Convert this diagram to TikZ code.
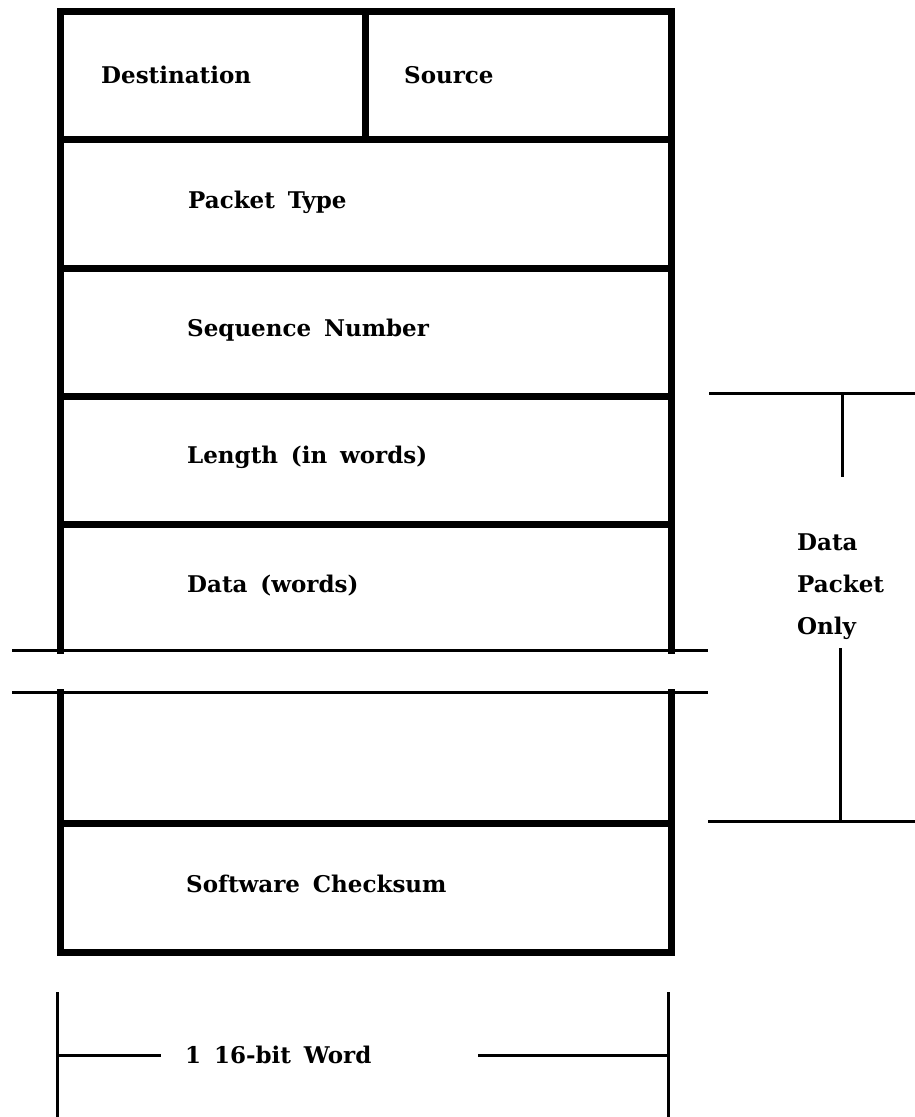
\documentclass[tikz,border=0pt]{standalone}
\usepackage{fontspec}
\newfontfamily\lblfont{DejaVu Serif}[WordSpace=1.6]
\begin{document}
\begin{tikzpicture}[x=1pt,y=-1pt,
  thick box/.style={line width=7pt,line join=miter,line cap=rect},
  thin line/.style={line width=3pt},
  lbl/.style={anchor=base west,inner sep=0pt,font=\lblfont\bfseries\fontsize{23}{27}\selectfont}]
\useasboundingbox (0,0) rectangle (915,1117);
% coordinates of the packet box
\coordinate (tl) at (60,11);
\coordinate (tr) at (671,11);
\coordinate (bl) at (60,952);
\coordinate (br) at (671,952);
\coordinate (lbrk1) at (60,650);
\coordinate (rbrk1) at (671,650);
\coordinate (lbrk2) at (60,692);
\coordinate (rbrk2) at (671,692);
% outer box (broken)
\draw[thick box] (lbrk1) -- (tl) -- (tr) -- (rbrk1);
\draw[thick box] (lbrk2) -- (bl) -- (br) -- (rbrk2);
% row separators
\coordinate (d1) at (365,11);
\coordinate (d2) at (365,139);
\draw[thick box] (d1) -- (d2);
\foreach \y/\n in {139/a,268/b,396/c,524/d,823/e}{
  \coordinate (r\n l) at (60,\y);
  \coordinate (r\n r) at (671,\y);
  \draw[thick box] (r\n l) -- (r\n r);
}
% break lines
\coordinate (k1a) at (12,650);
\coordinate (k1b) at (708,650);
\coordinate (k2a) at (12,692);
\coordinate (k2b) at (708,692);
\draw[thin line] (k1a) -- (k1b);
\draw[thin line] (k2a) -- (k2b);
% labels
\node[lbl] (dest) at (101,83) {Destination};
\node[lbl] (src) at (404,83) {Source};
\node[lbl] (ptype) at (188,208) {Packet Type};
\node[lbl] (seq) at (187,336) {Sequence Number};
\node[lbl] (len) at (187,463) {Length (in words)};
\node[lbl] (data) at (187,592) {Data (words)};
\node[lbl] (chk) at (186,892) {Software Checksum};
\node[lbl] (dpo1) at (797,550) {Data};
\node[lbl] (dpo2) at (797,592) {Packet};
\node[lbl] (dpo3) at (797,634) {Only};
% right bracket
\coordinate (rt1) at (709,393);
\coordinate (rt2) at (915,393);
\coordinate (rv1) at (842,393);
\coordinate (rv2) at (842,477);
\coordinate (rv3) at (840,648);
\coordinate (rv4) at (840,821);
\coordinate (rb1) at (708,821);
\coordinate (rb2) at (915,821);
\draw[thin line] (rt1) -- (rt2);
\draw[thin line] (rv1) -- (rv2);
\draw[thin line] (rv3) -- (rv4);
\draw[thin line] (rb1) -- (rb2);
% bottom width marker
\node[lbl] (word) at (185,1063) {1 16-bit Word};
\coordinate (wl1) at (57,992);
\coordinate (wl2) at (57,1117);
\coordinate (wr1) at (668,992);
\coordinate (wr2) at (668,1117);
\coordinate (wlm) at (57,1055);
\coordinate (wrm) at (668,1055);
\coordinate (wle) at (161,1055);
\coordinate (wre) at (478,1055);
\draw[thin line] (wl1) -- (wl2);
\draw[thin line] (wr1) -- (wr2);
\draw[thin line] (wlm) -- (wle);
\draw[thin line] (wre) -- (wrm);
\end{tikzpicture}
\end{document}
